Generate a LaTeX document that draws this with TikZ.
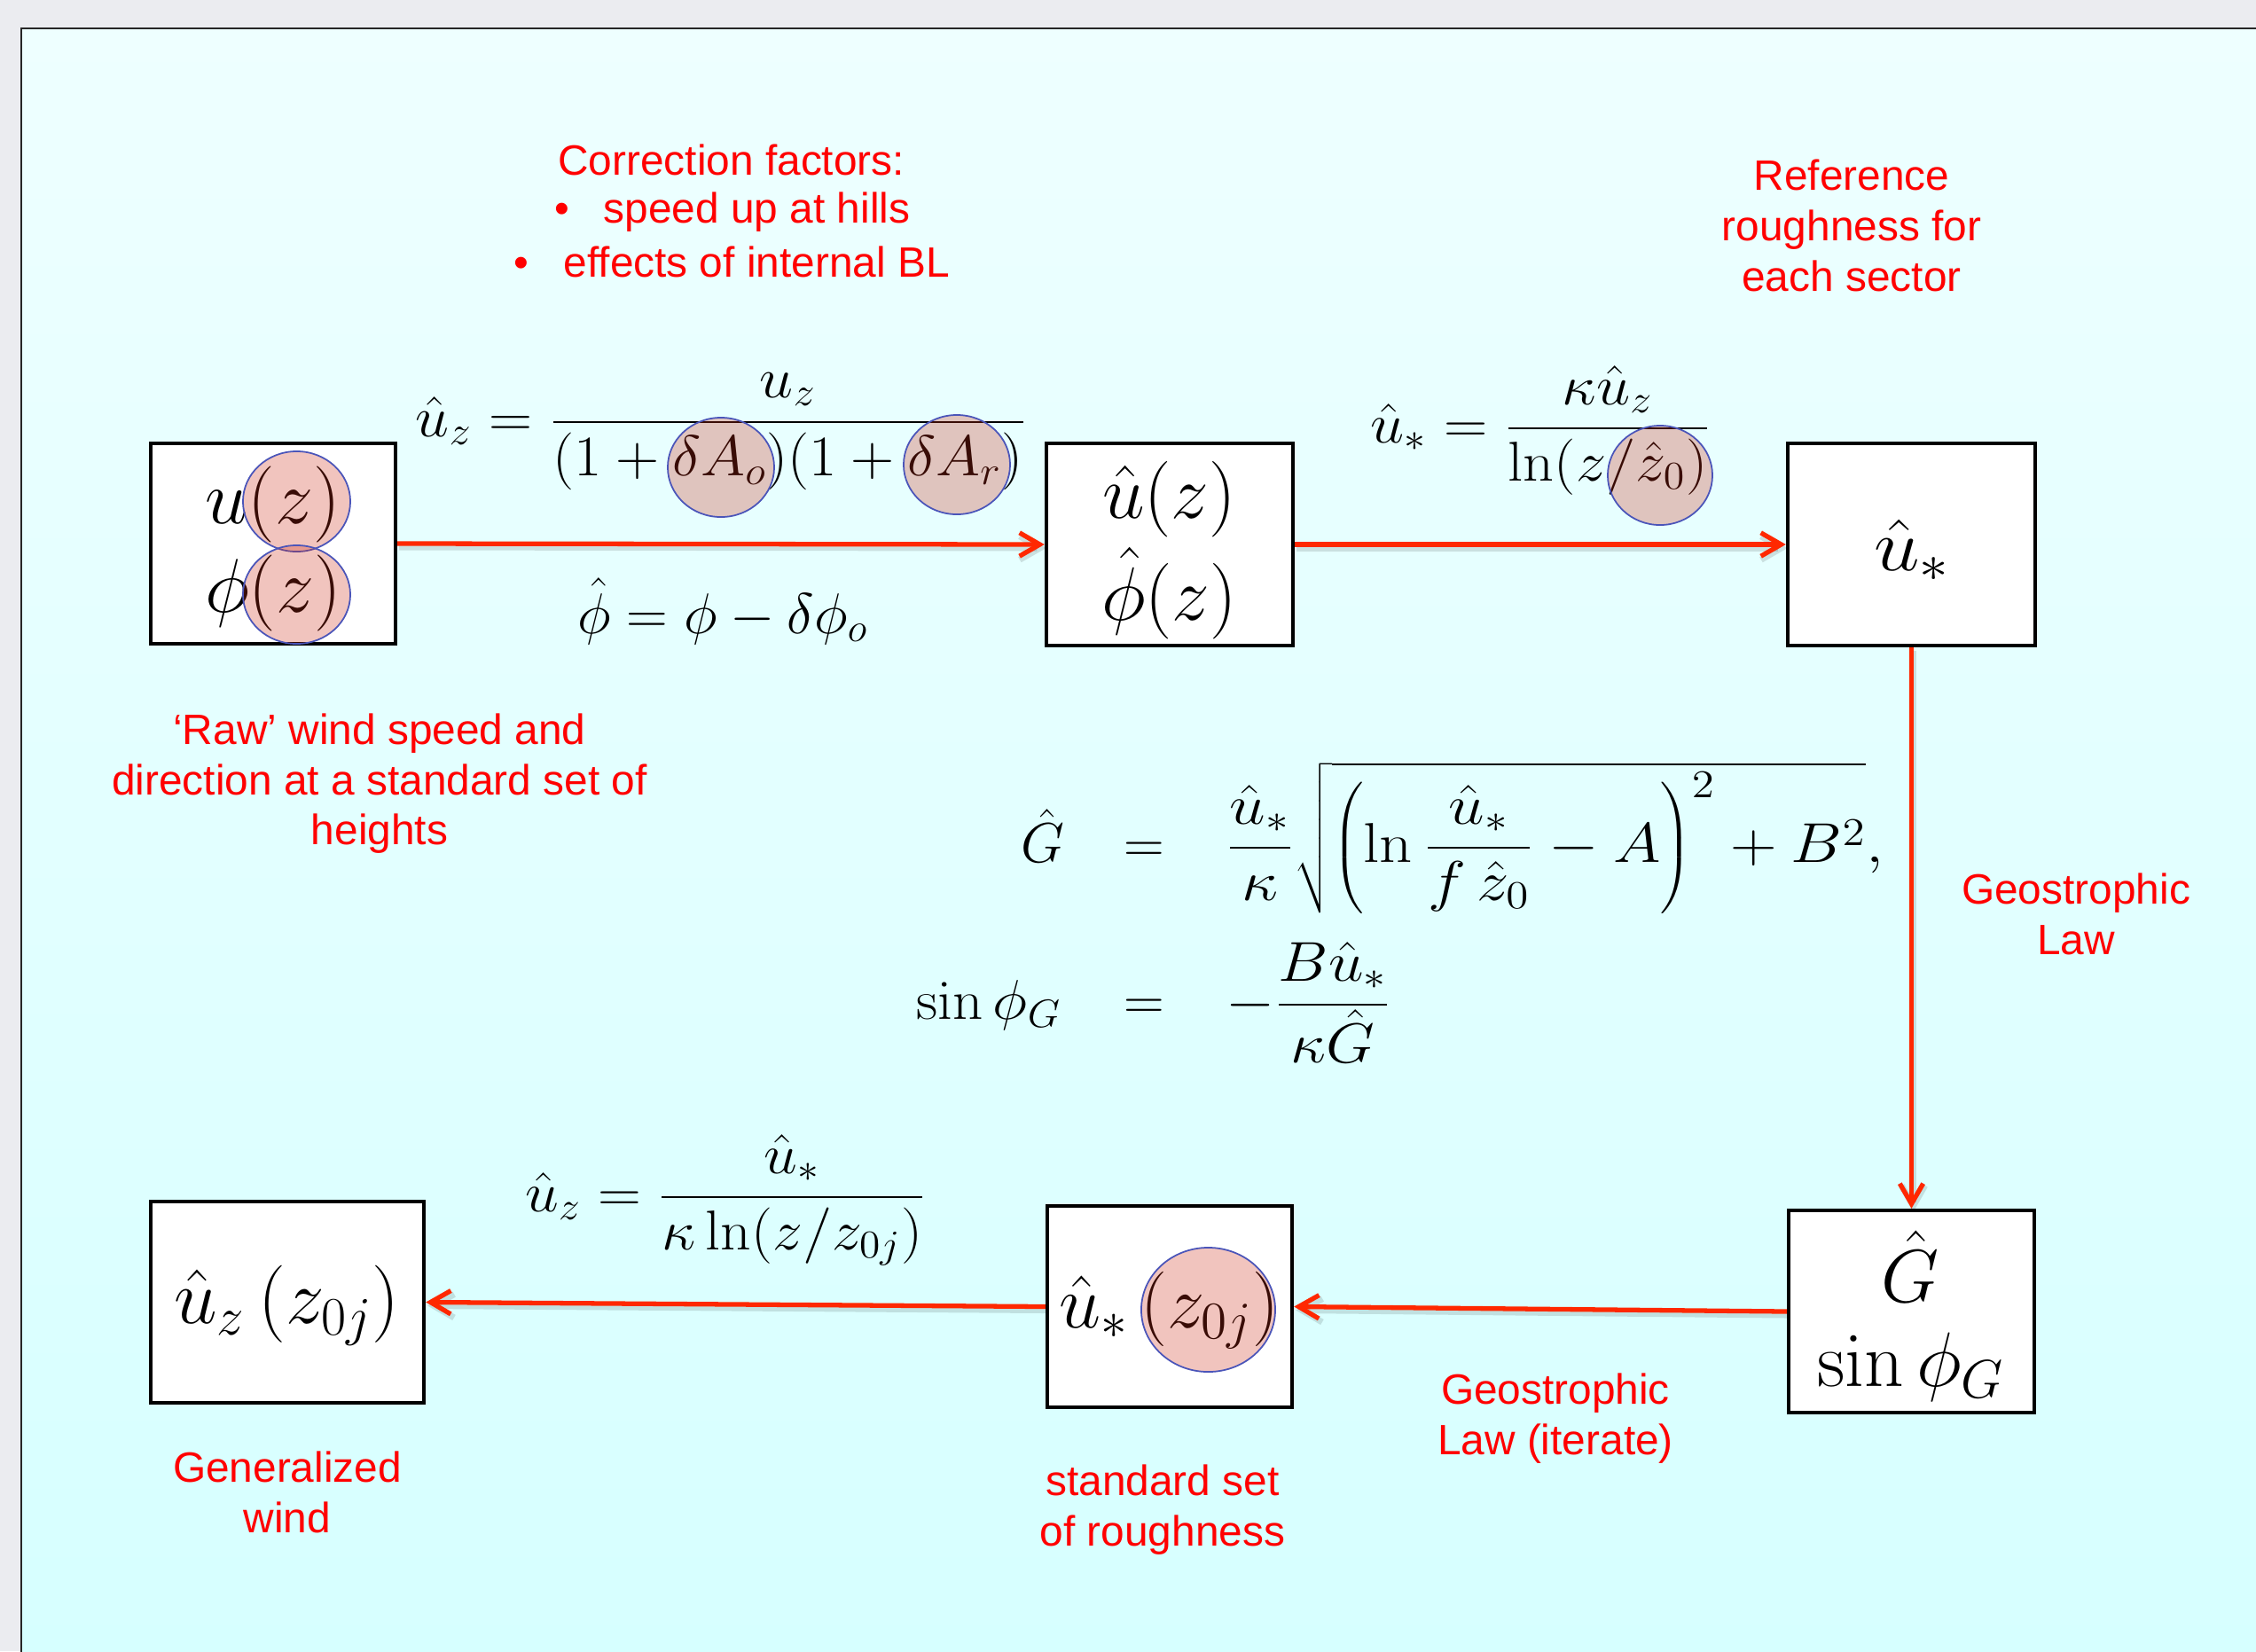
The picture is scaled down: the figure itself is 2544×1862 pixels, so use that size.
\RequirePackage{fix-cm}
\documentclass[tikz,border=0pt]{standalone}
\usepackage[no-math]{fontspec}
\newfontfamily\arial{Liberation Sans}
\usetikzlibrary{arrows.meta}
\definecolor{outergray}{RGB}{235,236,240}
\definecolor{slidetop}{RGB}{238,255,255}
\definecolor{slidebot}{RGB}{214,255,255}
\definecolor{arrowred}{RGB}{255,40,0}
\definecolor{labelred}{RGB}{255,0,0}
\definecolor{circfill}{RGB}{205,45,22}
\definecolor{circline}{RGB}{75,85,185}
\newcommand{\fsz}[1]{\fontsize{#1}{#1}\selectfont}
\tikzset{
  box/.style={draw=black, line width=1.2pt, fill=white, rectangle, inner sep=0pt},
  mth/.style={anchor=base, text=black, inner sep=0pt, outer sep=0pt},
  lbl/.style={anchor=base, text=labelred, font=\arial\fsz{13.6}, inner sep=0pt},
  conn/.style={draw=arrowred, line width=1.5pt, -{Straight Barb[length=6.5pt,width=7.5pt]},
    preaction={draw=black, draw opacity=0.12, line width=2pt, transform canvas={shift={(0.02cm,-0.04cm)}}}},
  hl/.style={fill=circfill, fill opacity=0.28, draw=circline, line width=0.5pt}
}
\begin{document}
\begin{tikzpicture}[x=0.01cm, y=-0.01cm]
\useasboundingbox (0,0) rectangle (2544,1862);
\clip (0,0) rectangle (2544,1862);
% background
\fill[outergray] (0,0) rectangle (2544,1862);
\shade[top color=slidetop, bottom color=slidebot] (24,32) rectangle (2560,1870);
\draw[black!85, line width=0.7pt] (24,1870) -- (24,32) -- (2560,32);

% boxes
\node[box, minimum width=2.76cm, minimum height=2.26cm] (b1) at (308,613) {};
\node[box, minimum width=2.78cm, minimum height=2.28cm] (b2) at (1319,614) {};
\node[box, minimum width=2.79cm, minimum height=2.28cm] (b3) at (2155.5,614) {};
\node[box, minimum width=2.77cm, minimum height=2.28cm] (b4) at (2155.5,1479) {};
\node[box, minimum width=2.76cm, minimum height=2.27cm] (b5) at (1319,1473.5) {};
\node[box, minimum width=3.08cm, minimum height=2.27cm] (b6) at (324,1468.5) {};

% box contents
\node[mth, font=\fsz{24.5}] (b1u) at (308,590) {$u(z)$};
\node[mth, font=\fsz{24.5}] (b1p) at (308,690) {$\phi(z)$};
\node[mth, font=\fsz{24.3}] (b2u) at (1318.5,584) {$\hat u(z)$};
\node[mth, font=\fsz{24.3}] (b2p) at (1318.5,699) {$\hat\phi(z)$};
\node[mth, font=\fsz{23.5}] (b3u) at (2156,643) {\scalebox{1.12}[1]{$\hat u_*$}};
\node[mth, font=\fsz{24}] (b4g) at (2154,1468) {$\hat G$};
\node[mth, font=\fsz{24.8}] (b4s) at (2155,1563) {$\sin\phi_G$};
\node[mth, font=\fsz{24}] (b5u) at (1318.5,1497) {$\hat u_*\,(z_{0j})$};
\node[mth, font=\fsz{24.8}] (b6u) at (323.5,1492) {$\hat u_z\,(z_{0j})$};

% formulas
\node[mth, font=\fsz{18.4}] (f1) at (813.5,492) {\scalebox{1.052}[1]{$\displaystyle \hat u_z = \frac{u_z}{(1+\delta A_o)(1+\delta A_r)}$}};
\node[mth, font=\fsz{18.4}] (f2) at (815,714) {$\hat\phi = \phi - \delta\phi_o$};
\node[mth, font=\fsz{18}] (f3) at (1737.5,499) {\scalebox{1.08}[1]{$\displaystyle \hat u_* = \frac{\kappa \hat u_z}{\ln(z/\hat z_0)}$}};
\node[mth, font=\fsz{18}] (f5) at (818.5,1366) {\scalebox{1.07}[1]{$\displaystyle \hat u_z = \frac{\hat u_*}{\kappa\ln(z/z_{0j})}$}};
\node[mth, anchor=base east, font=\fsz{18}] (g1l) at (1200,972) {$\hat G$};
\node[mth, font=\fsz{18}] (g1e) at (1290.5,972) {$=$};
\node[mth, anchor=base west, font=\fsz{18}] (g1r) at (1382,972) {\scalebox{1.15}[1]{$\displaystyle \frac{\hat u_*}{\kappa}\sqrt{\left(\ln\frac{\hat u_*}{f\,\hat z_0}-A\right)^2+B^2},$}};
\node[mth, anchor=base east, font=\fsz{18}] (g2l) at (1197,1149) {\scalebox{1.06}[1]{$\sin\phi_G$}};
\node[mth, font=\fsz{18}] (g2e) at (1290.5,1149) {$=$};
\node[mth, anchor=base west, font=\fsz{18}] (g2r) at (1382,1149) {\scalebox{1.12}[1]{$\displaystyle -\frac{B\hat u_*}{\kappa\hat G}$}};

% highlight ellipses
\draw[hl] (334.5,565.5) ellipse [x radius=0.605cm, y radius=0.565cm];
\draw[hl] (334.5,670.5) ellipse [x radius=0.605cm, y radius=0.555cm];
\draw[hl] (813,527) ellipse [x radius=0.60cm, y radius=0.56cm];
\draw[hl] (1079,524) ellipse [x radius=0.60cm, y radius=0.56cm];
\draw[hl] (1872,536) ellipse [x radius=0.59cm, y radius=0.56cm];
\draw[hl] (1362.5,1477) ellipse [x radius=0.755cm, y radius=0.70cm];

% connectors
\draw[conn] (b1.east) -- (b2.west);
\draw[conn] (b2.east) -- (b3.west);
\draw[conn] (b3.south) -- (b4.north);
\draw[conn] (b4.west) -- (b5.east);
\draw[conn] (b5.west) -- (b6.east);

% red labels
\node[lbl, anchor=base west] (c1) at (628.6,197) {Correction factors:};
\node[lbl, anchor=base west] (c2) at (625,251) {\makebox[15.65pt][l]{•}speed up at hills};
\node[lbl, anchor=base west] (c3) at (579,312) {\makebox[15.93pt][l]{•}effects of internal BL};

\node[lbl] (r1) at (2088,214) {Reference};
\node[lbl] (r2) at (2088,271) {roughness for};
\node[lbl] (r3) at (2088,328) {each sector};

\node[lbl] (w1) at (428,839) {‘Raw’ wind speed and};
\node[lbl] (w2) at (428,896) {direction at a standard set of};
\node[lbl] (w3) at (428,952) {heights};

\node[lbl] (g1) at (2341,1019) {Geostrophic};
\node[lbl] (g2) at (2341,1076) {Law};

\node[lbl] (i1) at (1754,1583) {Geostrophic};
\node[lbl] (i2) at (1754,1640) {Law (iterate)};

\node[lbl] (n1) at (324,1671) {Generalized};
\node[lbl] (n2) at (324,1728) {wind};

\node[lbl] (s1) at (1311,1686) {standard set};
\node[lbl] (s2) at (1311,1743) {of roughness};
\end{tikzpicture}
\end{document}
